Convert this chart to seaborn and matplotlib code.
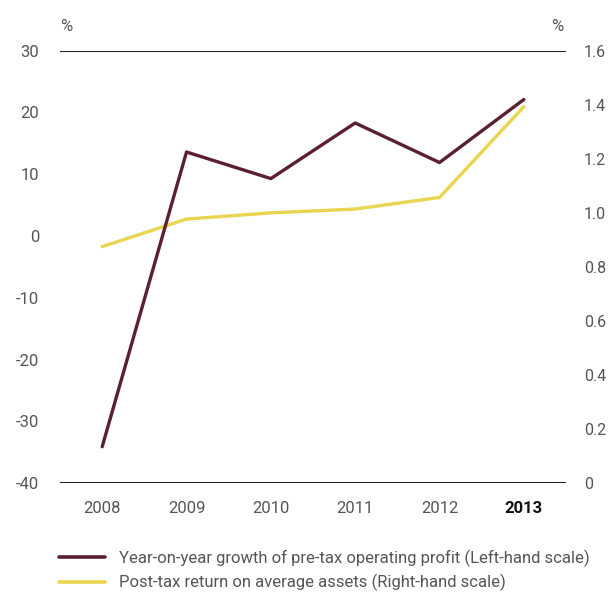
import pandas as pd
import numpy as np
import matplotlib
matplotlib.use("Agg")
import matplotlib.pyplot as plt
import seaborn as sns
from matplotlib.lines import Line2D

sns.set_style("white")
plt.rcParams['font.family'] = ['Roboto', 'DejaVu Sans']

# data
years = [2008, 2009, 2010, 2011, 2012, 2013]
growth = [-34.1, 13.6, 9.3, 18.3, 11.9, 22.1]      # left scale, %
roa = [0.875, 0.977, 1.000, 1.014, 1.057, 1.393]    # right scale, %
left_ticks = [-40, -30, -20, -10, 0, 10, 20, 30]
right_ticks = [0, 0.2, 0.4, 0.6, 0.8, 1.0, 1.2, 1.4, 1.6]
right_labels = ['0', '0.2', '0.4', '0.6', '0.8', '1.0', '1.2', '1.4', '1.6']
lbl_growth = "Year-on-year growth of pre-tax operating profit (Left-hand scale)"
lbl_roa = "Post-tax return on average assets (Right-hand scale)"

df = pd.DataFrame({"year": years, "growth": growth, "roa": roa})

maroon = "#5b1f33"
yellow = "#e9d54f"
grey = "#555555"

fig = plt.figure(figsize=(6.1, 5.95), dpi=100)
ax = fig.add_axes([0.0984, 0.188, 0.8295, 0.7268])
ax2 = ax.twinx()

sns.lineplot(data=df, x="year", y="roa", ax=ax2, color=yellow, linewidth=2.4)
sns.lineplot(data=df, x="year", y="growth", ax=ax, color=maroon, linewidth=2.4)

# keep maroon line on top
ax.set_zorder(ax2.get_zorder() + 1)
ax.patch.set_visible(False)

ax.set_xlim(2007.5, 2013.5)
ax.set_ylim(-40, 30)
ax2.set_ylim(0, 1.6)

for a in (ax, ax2):
    for s in a.spines.values():
        s.set_visible(False)
    a.set_xlabel("")
    a.set_ylabel("")
    a.grid(False)

ax.axhline(30, color="#222222", linewidth=1.5, zorder=1)
ax.axhline(-40, color="#222222", linewidth=1.5, zorder=1)

ax.set_yticks(left_ticks)
ax.set_yticklabels([str(t) for t in left_ticks])
ax.tick_params(axis="y", length=0, pad=15, labelsize=12, labelcolor=grey)
ax2.set_yticks(right_ticks)
ax2.set_yticklabels(right_labels)
ax2.tick_params(axis="y", length=0, pad=13, labelsize=11.5, labelcolor=grey)

ax.set_xticks(years)
ax.set_xticklabels([str(y) for y in years])
ax.set_xticks([y + 0.5 for y in years[:-1]], minor=True)
ax.tick_params(axis="x", which="major", length=0, pad=13, labelsize=12, labelcolor=grey)
ax.tick_params(axis="x", which="minor", length=5, width=1.2, color="#222222", direction="out")
last = ax.get_xticklabels()[-1]
last.set_fontweight("bold")
last.set_color("#111111")

fig.text(0.108, 0.955, "%", fontsize=12, color=grey, ha="center", va="center")
fig.text(0.913, 0.955, "%", fontsize=12, color=grey, ha="center", va="center")

handles = [Line2D([], [], color=maroon, linewidth=2.6),
           Line2D([], [], color=yellow, linewidth=2.6)]
fig.legend(handles, [lbl_growth, lbl_roa], loc="upper left",
           bbox_to_anchor=(0.085, 0.088), frameon=False, fontsize=12,
           labelcolor=grey, handlelength=2.8, handletextpad=0.8,
           labelspacing=0.45, borderaxespad=0)

fig.savefig("out.png", dpi=100)
